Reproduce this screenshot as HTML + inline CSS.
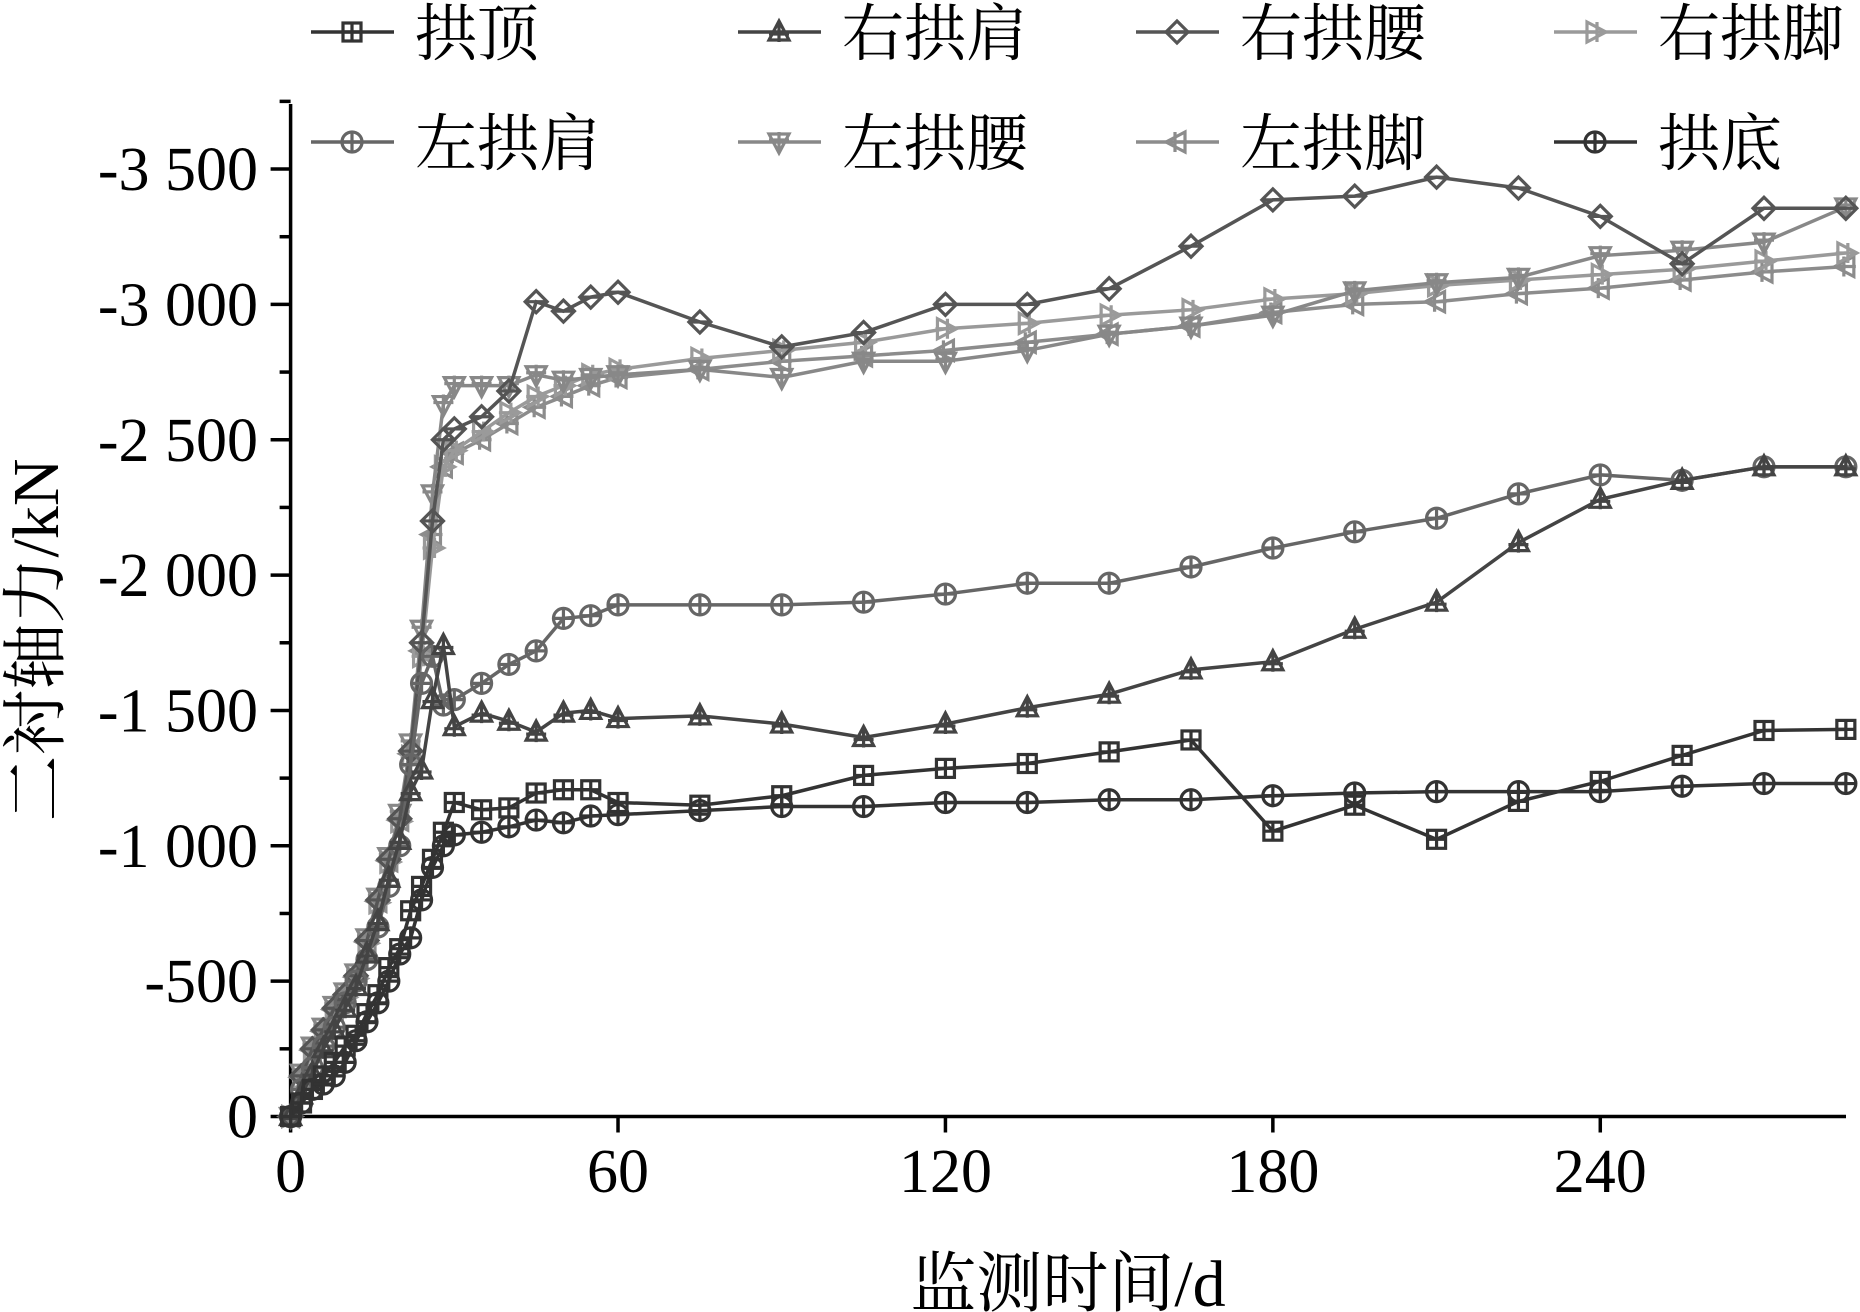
<!DOCTYPE html>
<html><head><meta charset="utf-8">
<style>
html,body{margin:0;padding:0;background:#fff;}
svg{display:block;font-family:"Liberation Serif","Noto Serif CJK SC",serif;}
</style></head>
<body>
<svg id="chart" width="1860" height="1312" viewBox="0 0 1860 1312" xmlns="http://www.w3.org/2000/svg"></svg>
<script>
const seriesNames = ["拱顶","右拱肩","右拱腰","右拱脚","左拱肩","左拱腰","左拱脚","拱底"];
const xTicks = [0,60,120,180,240];
const yTicks = [0,-500,-1000,-1500,-2000,-2500,-3000,-3500];
const yTickLabels = ["0","-500","-1 000","-1 500","-2 000","-2 500","-3 000","-3 500"];
const lateDays = [30,35,40,45,50,55,60,75,90,105,120,135,150,165,180,195,210,225,240,255,270,285];
const earlyDays = [0,2,4,6,8,10,12,14,16,18,20,22,24,26,28];

const gongDingEarly = [0,-50,-100,-150,-200,-260,-300,-380,-450,-550,-620,-760,-850,-950,-1050];
const gongDingLate = [-1160,-1133,-1140,-1195,-1207,-1207,-1160,-1150,-1185,-1260,-1286,-1304,-1347,-1391,-1054,-1150,-1024,-1164,-1238,-1334,-1426,-1430];
const youJianEarly = [0,-80,-160,-250,-320,-400,-480,-600,-720,-880,-1020,-1200,-1280,-1540,-1740];
const youJianLate = [-1440,-1490,-1460,-1420,-1490,-1500,-1470,-1480,-1450,-1400,-1450,-1510,-1560,-1650,-1680,-1800,-1900,-2120,-2280,-2350,-2400,-2400];
const youYaoEarly = [0,-150,-250,-320,-400,-450,-520,-650,-800,-950,-1100,-1350,-1750,-2200,-2500];
const youYaoLate = [-2540,-2585,-2680,-3010,-2975,-3027,-3045,-2935,-2843,-2896,-3000,-3000,-3058,-3215,-3386,-3400,-3470,-3430,-3325,-3150,-3355,-3355];
const youJiaoEarly = [0,-140,-240,-310,-390,-440,-510,-640,-790,-940,-1090,-1330,-1700,-2100,-2400];
const youJiaoLate = [-2460,-2530,-2600,-2660,-2700,-2740,-2760,-2800,-2830,-2860,-2910,-2930,-2960,-2980,-3020,-3040,-3070,-3090,-3110,-3130,-3160,-3190];
const zuoJianEarly = [0,-100,-180,-260,-330,-420,-500,-580,-700,-850,-1000,-1300,-1600,-1700,-1520];
const zuoJianLate = [-1540,-1600,-1670,-1720,-1840,-1850,-1890,-1890,-1890,-1900,-1930,-1970,-1970,-2030,-2100,-2160,-2210,-2300,-2370,-2350,-2400,-2400];
const zuoYaoEarly = [0,-160,-260,-330,-410,-460,-530,-660,-810,-960,-1120,-1380,-1800,-2300,-2630];
const zuoYaoLate = [-2700,-2700,-2700,-2740,-2720,-2730,-2740,-2760,-2730,-2790,-2790,-2830,-2890,-2920,-2960,-3050,-3080,-3100,-3180,-3200,-3230,-3360];
const zuoJiaoEarly = [0,-145,-245,-315,-395,-445,-515,-645,-795,-945,-1095,-1340,-1720,-2150,-2400];
const zuoJiaoLate = [-2450,-2500,-2560,-2620,-2660,-2700,-2730,-2760,-2790,-2810,-2830,-2860,-2890,-2920,-2970,-3000,-3010,-3040,-3060,-3090,-3120,-3140];
const gongDiEarly = [0,-50,-100,-120,-150,-200,-280,-350,-420,-500,-600,-660,-800,-920,-1000];
const gongDiLate = [-1040,-1050,-1070,-1095,-1085,-1110,-1115,-1130,-1145,-1145,-1160,-1160,-1170,-1170,-1185,-1195,-1200,-1200,-1200,-1220,-1230,-1230];

const svg = document.getElementById('chart');
const NS = "http://www.w3.org/2000/svg";
const X0 = 290.6, PXD = 5.457, Y0 = 1116.5, PXK = 0.2707;
const xs = d => X0 + d * PXD;
const ys = v => Y0 + v * PXK;
function mk(tag, attrs, parent){ const e=document.createElementNS(NS,tag); for(const k in attrs) e.setAttribute(k,attrs[k]); (parent||svg).appendChild(e); return e; }

const axes = mk('g',{});


const yAxis = mk('line',{x1:X0,y1:104,x2:X0,y2:Y0,stroke:'#000','stroke-width':3.5},axes);


const xAxis = mk('line',{x1:X0,y1:Y0,x2:1846,y2:Y0,stroke:'#000','stroke-width':3.5},axes);


for(let v=0; v>=-3750; v-=250){
  const major = (v % 500)===0;
  const t = mk('line',{x1:X0-(major?20:11),x2:X0,y1:ys(v),y2:ys(v),stroke:'#000','stroke-width':3.5},axes);
  
  
}
yTicks.forEach((v,i)=>{
  const t = mk('text',{x:258,y:ys(v)+21,'text-anchor':'end','font-size':62},axes);
  t.textContent = yTickLabels[i];
  
  
});
xTicks.forEach(d=>{
  const t = mk('line',{x1:xs(d),x2:xs(d),y1:Y0,y2:Y0+16,stroke:'#000','stroke-width':3.5},axes);
  
  
  const l = mk('text',{x:xs(d),y:1192,'text-anchor':'middle','font-size':62},axes);
  l.textContent = d;
  
  
});
const xt = mk('text',{x:1068,y:1306,'text-anchor':'middle','font-size':66});
xt.textContent = '监测时间/d';


const yt = mk('text',{x:0,y:0,'text-anchor':'middle','font-size':66,transform:'translate(58,640) rotate(-90)'});
yt.textContent = '二衬轴力/kN';



const colors = ['#333','#444','#555','#9a9a9a','#666','#888','#8c8c8c','#333'];
const markers = ['square','tri-up','diamond','tri-right','circle-plus','tri-down','tri-left','circle-vline'];
const dataSets = [
  [gongDingEarly,gongDingLate],[youJianEarly,youJianLate],[youYaoEarly,youYaoLate],[youJiaoEarly,youJiaoLate],
  [zuoJianEarly,zuoJianLate],[zuoYaoEarly,zuoYaoLate],[zuoJiaoEarly,zuoJiaoLate],[gongDiEarly,gongDiLate]
];

function drawMarker(type,x,y,c,parent){
  const r=10, sw=3.2, common={fill:'none',stroke:c,'stroke-width':sw};
  let e;
  if(type==='square'){ e=mk('g',{},parent); mk('rect',Object.assign({x:x-r+1,y:y-r+1,width:2*r-2,height:2*r-2},common),e); mk('path',Object.assign({d:`M${x-r} ${y}H${x+r}M${x} ${y-r}V${y+r}`},common),e); }
  else if(type==='tri-up') e=mk('path',Object.assign({d:`M${x} ${y-r-1}L${x+r} ${y+r-2}L${x-r} ${y+r-2}ZM${x} ${y-r}V${y+r}M${x-r} ${y+2}H${x+r}`},common),parent);
  else if(type==='tri-down') e=mk('path',Object.assign({d:`M${x} ${y+r+1}L${x+r} ${y-r+2}L${x-r} ${y-r+2}ZM${x} ${y-r}V${y+r}M${x-r} ${y-2}H${x+r}`},common),parent);
  else if(type==='tri-right') e=mk('path',Object.assign({d:`M${x+r+1} ${y}L${x-r+2} ${y-r}L${x-r+2} ${y+r}ZM${x-r} ${y}H${x+r}M${x+2} ${y-r}V${y+r}`},common),parent);
  else if(type==='tri-left') e=mk('path',Object.assign({d:`M${x-r-1} ${y}L${x+r-2} ${y-r}L${x+r-2} ${y+r}ZM${x-r} ${y}H${x+r}M${x-2} ${y-r}V${y+r}`},common),parent);
  else if(type==='diamond') e=mk('path',Object.assign({d:`M${x} ${y-r-1}L${x+r+1} ${y}L${x} ${y+r+1}L${x-r-1} ${y}ZM${x-r} ${y}H${x+r}`},common),parent);
  else if(type==='circle-plus'){ e=mk('g',{},parent); mk('circle',Object.assign({cx:x,cy:y,r:r},common),e); mk('path',Object.assign({d:`M${x-r} ${y}H${x+r}M${x} ${y-r}V${y+r}`},common),e); }
  else { e=mk('g',{},parent); mk('circle',Object.assign({cx:x,cy:y,r:r},common),e); mk('path',Object.assign({d:`M${x} ${y-r}V${y+r}M${x-r} ${y}H${x+r}`},common),e); }
  return e;
}

const order=[6,3,5,2,4,1,0,7];
order.forEach(i=>{
  const g = mk('g',{});
  
  
  const days = earlyDays.concat(lateDays);
  const vals = dataSets[i][0].concat(dataSets[i][1]);
  const pts = days.map((d,k)=>xs(d)+','+ys(vals[k])).join(' ');
  const line = mk('polyline',{points:pts,fill:'none',stroke:colors[i],'stroke-width':3.5},g);
  
  
  days.forEach((d,k)=>{
    const m = drawMarker(markers[i],xs(d),ys(vals[k]),colors[i],g);
    
    
  });
});

const legX=[311,738,1136,1554], legY=[32,142];
seriesNames.forEach((n,i)=>{
  const lx=legX[i%4], ly=legY[Math.floor(i/4)];
  const g = mk('g',{});
  
  
  mk('line',{x1:lx,x2:lx+83,y1:ly,y2:ly,stroke:colors[i],'stroke-width':3.5},g);
  drawMarker(markers[i],lx+41,ly,colors[i],g);
  const t = mk('text',{x:lx+104,y:ly+23,'font-size':62,fill:'#000'},g);
  t.textContent=n;
});
</script>
</body></html>
